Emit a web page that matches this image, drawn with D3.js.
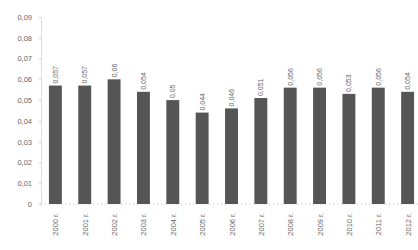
<!DOCTYPE html>
<html>
<head>
<meta charset="utf-8">
<script src="https://cdn.jsdelivr.net/npm/d3@7"></script>
<style>
body { margin: 0; background: #fff; }
text { font-family: "Liberation Sans", Arial, sans-serif; fill: #666; }
</style>
</head>
<body>
<div id="canvas"></div>
<script>
const years = ["2000 г.", "2001 г.", "2002 г.", "2003 г.", "2004 г.", "2005 г.", "2006 г.",
    "2007 г.", "2008 г.", "2009 г.", "2010 г.", "2011 г.", "2012 г."];
const values = [0.057, 0.057, 0.06, 0.054, 0.05, 0.044, 0.046, 0.051, 0.056, 0.056, 0.053, 0.056, 0.054];
const yTicks = [0, 0.01, 0.02, 0.03, 0.04, 0.05, 0.06, 0.07, 0.08, 0.09];

const width = 418;
const height = 250;
const margin = { top: 17, left: 41, bottom: 46, right: -4 };
const iwidth = width - margin.left - margin.right;
const iheight = height - margin.top - margin.bottom;

const fmt = v => String(v).replace(".", ",");

const svg = d3.select("#canvas").append("svg")
    .attr("width", width)
    .attr("height", height);

const g = svg.append("g").attr("transform", `translate(${margin.left},${margin.top})`);

const x = d3.scaleBand()
    .domain(years)
    .range([0, iwidth])
    .paddingInner(0.56)
    .paddingOuter(0.27);

const y = d3.scaleLinear()
    .domain([0, 0.09])
    .range([iheight, 0]);

// y axis
const yAxis = g.append("g")
    .call(d3.axisLeft(y).tickValues(yTicks).tickFormat(d => d === 0 ? "0" : fmt(d3.format(".2f")(d))).tickSize(2).tickPadding(7));
yAxis.select(".domain").attr("stroke", "#ddd");
yAxis.selectAll(".tick line").attr("stroke", "#ccc");
yAxis.selectAll("text").style("font-size", "7.5px").attr("fill", "#777");

// baseline
g.append("line")
    .attr("x1", 0).attr("x2", iwidth)
    .attr("y1", y(0)).attr("y2", y(0))
    .attr("stroke", "#bbb")
    .attr("stroke-dasharray", "1,3");

g.selectAll("rect").data(values)
    .enter().append("rect")
    .attr("x", (d, i) => x(years[i]))
    .attr("y", d => y(d))
    .attr("width", x.bandwidth())
    .attr("height", d => iheight - y(d))
    .attr("fill", "#555");

g.selectAll(".val").data(values)
    .enter().append("text")
    .attr("class", "val")
    .attr("transform", (d, i) => `translate(${x(years[i]) + x.bandwidth() / 2 + 2.5},${y(d) - 2}) rotate(-90)`)
    .style("font-size", "7px")
    .text(d => fmt(d));

g.selectAll(".yr").data(years)
    .enter().append("text")
    .attr("class", "yr")
    .attr("text-anchor", "end")
    .attr("transform", d => `translate(${x(d) + x.bandwidth() / 2 + 3},${iheight + 9}) rotate(-90)`)
    .style("font-size", "7.5px")
    .text(d => d);
</script>
</body>
</html>
